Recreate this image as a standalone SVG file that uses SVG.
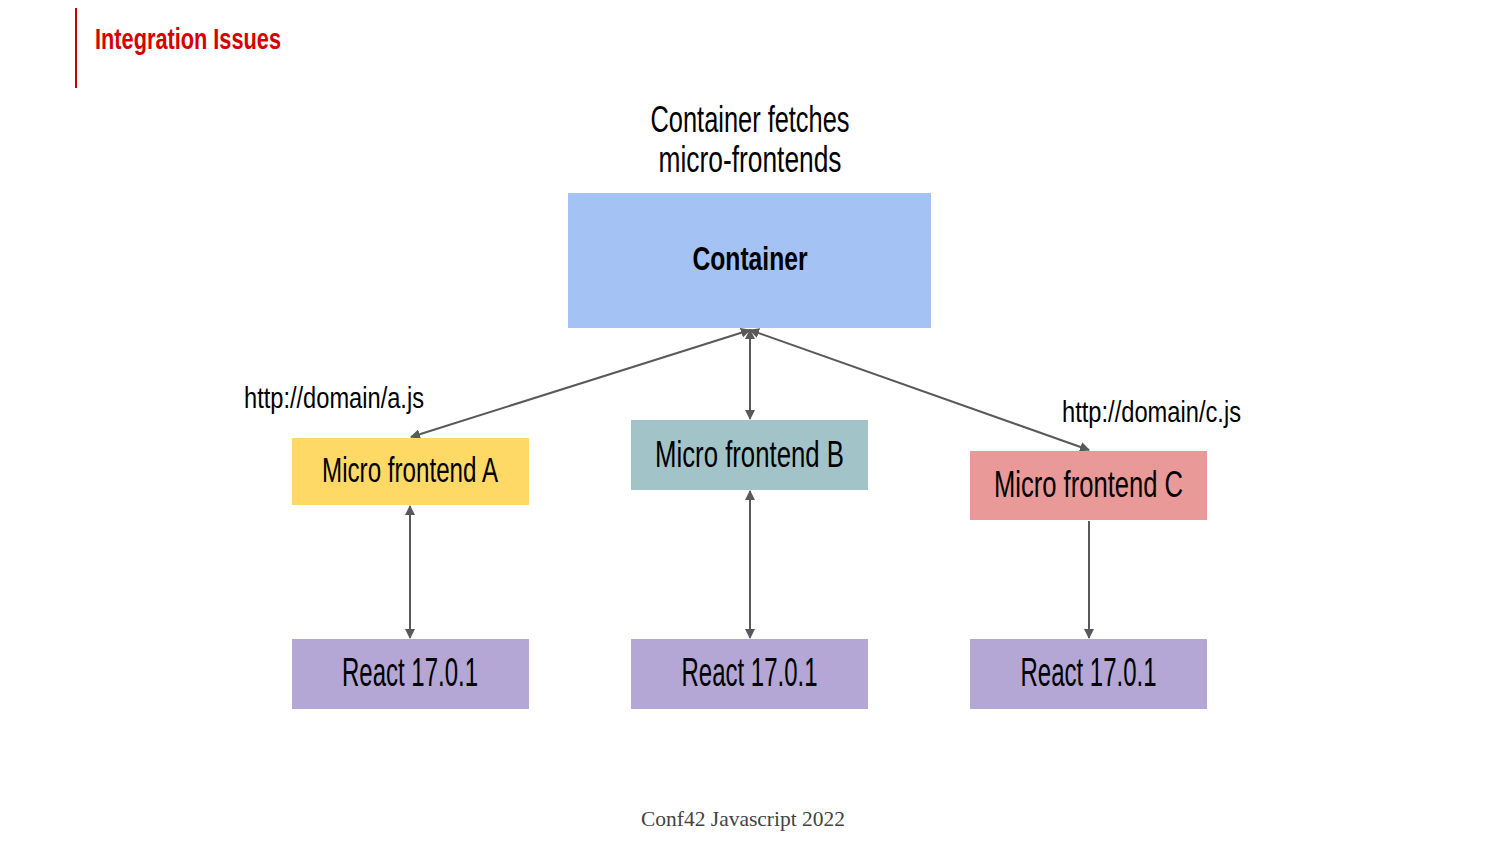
<svg xmlns="http://www.w3.org/2000/svg" width="1500" height="844" viewBox="0 0 1500 844">
<defs>
<style>
.t{font-family:"Liberation Sans Narrow","Liberation Sans","DejaVu Sans Condensed",sans-serif;fill:#000;text-anchor:middle}
.c{stroke:#595959;stroke-width:2;fill:none}
</style>
<marker id="ah" viewBox="0 0 10 10" refX="9" refY="5" markerWidth="5" markerHeight="5" orient="auto-start-reverse" markerUnits="strokeWidth">
<path d="M0,0 L10,5 L0,10 z" fill="#595959"/>
</marker>
</defs>
<rect width="1500" height="844" fill="#ffffff"/>
<g id="header">
<line x1="76" y1="8" x2="76" y2="88" stroke="#cc0000" stroke-width="2"/>
<text x="95" y="49" font-family="'Liberation Sans Narrow','Liberation Sans',sans-serif" font-weight="bold" font-size="29" fill="#d50000" textLength="186" lengthAdjust="spacingAndGlyphs">Integration Issues</text>
</g>
<g id="caption">
<text class="t" x="750" y="132" font-size="37" textLength="199" lengthAdjust="spacingAndGlyphs">Container fetches</text>
<text class="t" x="750" y="172" font-size="37" textLength="183" lengthAdjust="spacingAndGlyphs">micro-frontends</text>
</g>
<g id="connectors">
<line class="c" x1="750" y1="330" x2="411" y2="437" marker-start="url(#ah)" marker-end="url(#ah)"/>
<line class="c" x1="750" y1="330" x2="750" y2="419" marker-start="url(#ah)" marker-end="url(#ah)"/>
<line class="c" x1="750" y1="330" x2="1089" y2="450" marker-start="url(#ah)" marker-end="url(#ah)"/>
<line class="c" x1="410" y1="506" x2="410" y2="638" marker-start="url(#ah)" marker-end="url(#ah)"/>
<line class="c" x1="750" y1="491" x2="750" y2="638" marker-start="url(#ah)" marker-end="url(#ah)"/>
<line class="c" x1="1089" y1="521" x2="1089" y2="638" marker-end="url(#ah)"/>
</g>
<g id="container">
<rect x="568" y="193" width="363" height="135" fill="#a4c2f4"/>
<text class="t" x="750" y="270" font-size="33" font-weight="bold" textLength="115" lengthAdjust="spacingAndGlyphs">Container</text>
</g>
<g id="label-a">
<text class="t" x="334" y="408" font-size="30" textLength="180" lengthAdjust="spacingAndGlyphs">http://domain/a.js</text>
</g>
<g id="label-c">
<text class="t" x="1151.500" y="422" font-size="30" textLength="179" lengthAdjust="spacingAndGlyphs">http://domain/c.js</text>
</g>
<g id="mfe-a">
<rect x="292" y="438" width="237" height="67" fill="#ffd966"/>
<text class="t" x="410" y="482" font-size="35" textLength="176" lengthAdjust="spacingAndGlyphs">Micro frontend A</text>
</g>
<g id="mfe-b">
<rect x="631" y="420" width="237" height="70" fill="#a2c4c9"/>
<text class="t" x="749.500" y="467" font-size="37" textLength="189" lengthAdjust="spacingAndGlyphs">Micro frontend B</text>
</g>
<g id="mfe-c">
<rect x="970" y="451" width="237" height="69" fill="#ea9999"/>
<text class="t" x="1088.500" y="497" font-size="37" textLength="189" lengthAdjust="spacingAndGlyphs">Micro frontend C</text>
</g>
<g id="react-a">
<rect x="292" y="639" width="237" height="70" fill="#b4a7d6"/>
<text class="t" x="410" y="686" font-size="40" textLength="136" lengthAdjust="spacingAndGlyphs">React 17.0.1</text>
</g>
<g id="react-b">
<rect x="631" y="639" width="237" height="70" fill="#b4a7d6"/>
<text class="t" x="749.500" y="686" font-size="40" textLength="136" lengthAdjust="spacingAndGlyphs">React 17.0.1</text>
</g>
<g id="react-c">
<rect x="970" y="639" width="237" height="70" fill="#b4a7d6"/>
<text class="t" x="1088.500" y="686" font-size="40" textLength="136" lengthAdjust="spacingAndGlyphs">React 17.0.1</text>
</g>
<g id="footer">
<text x="743" y="826" font-family="'Liberation Serif',serif" font-size="22" fill="#434343" text-anchor="middle" textLength="204" lengthAdjust="spacingAndGlyphs">Conf42 Javascript 2022</text>
</g>
</svg>
